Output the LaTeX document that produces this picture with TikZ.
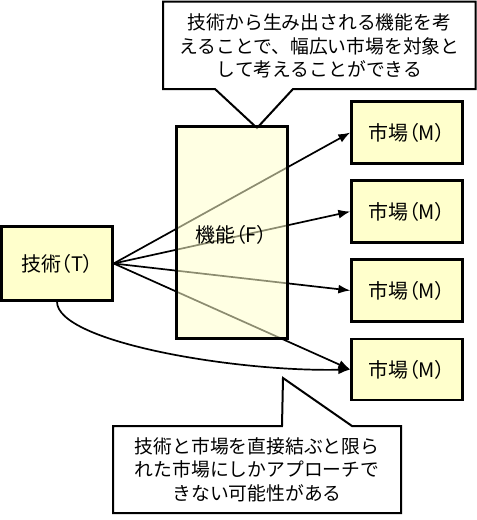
\documentclass[tikz,border=0pt]{standalone}
\usepackage{fontspec}
\setmainfont{Noto Sans CJK JP}
\newfontfamily\boxfont{Noto Sans CJK JP}[RawFeature=+palt]
\usetikzlibrary{arrows.meta}
\definecolor{boxyellow}{HTML}{FFFFCC}
\tikzset{
  box/.style={draw=black, line width=2.3pt, fill=boxyellow, inner sep=0pt, font=\boxfont\fontsize{20}{23}\selectfont},
  callout/.style={draw=black, line width=2pt, fill=white},
  callouttext/.style={align=center, inner sep=0pt, font=\fontsize{18.8}{23.5}\selectfont},
  link/.style={line width=1.7pt, -{Latex[length=12pt,width=9pt]}},
}
\begin{document}
\begin{tikzpicture}[x=1pt,y=-1pt]
\useasboundingbox (0,0) rectangle (477,520);
% top callout
\coordinate (c1a) at (163,1.5);
\coordinate (c1b) at (475.5,89);
\coordinate (c1tip) at (257,128);
\draw[callout] (c1a) -- (c1a -| c1b) -- (c1b) -- (293,89) -- (c1tip) -- (215,89) -- (c1a |- c1b) -- cycle;
\node[callouttext] (t1) at (319.5,46) {技術から生み出される機能を考\\えることで、幅広い市場を対象と\\して考えることができる};
% bottom callout
\coordinate (c2a) at (113,426);
\coordinate (c2b) at (401,513);
\coordinate (c2tip) at (283,378);
\draw[callout] (c2a) -- (282,426) -- (c2tip) -- (352,426) -- (c2a -| c2b) -- (c2b) -- (c2a |- c2b) -- cycle;
\node[callouttext] (t2) at (257,469.5) {技術と市場を直接結ぶと限ら\\れた市場にしかアプローチで\\きない可能性がある};
% nodes
\node[box, minimum width=111pt, minimum height=74pt] (T) at (57,263.5) {技術（T）};
\node[box, minimum width=111pt, minimum height=62pt] (M1) at (407,132.5) {市場（M）};
\node[box, minimum width=111pt, minimum height=62pt] (M2) at (407,211.5) {市場（M）};
\node[box, minimum width=111pt, minimum height=62pt] (M3) at (407,290.5) {市場（M）};
\node[box, minimum width=111pt, minimum height=61pt] (M4) at (407,369.5) {市場（M）};
% connectors
\draw[link] (T.east) -- (M1.west);
\draw[link] (T.east) -- (M2.west);
\draw[link] (T.east) -- (M3.west);
\draw[link] (T.east) -- (M4.west);
\draw[link] (T.south) .. controls (57,342) and (235,372) .. (M4.west);
% function box, semi-transparent over the lines
\node[box, fill opacity=0.55, text opacity=1, draw opacity=1, minimum width=111pt, minimum height=212pt] (F) at (232,232.5) {};
\node[font=\boxfont\fontsize{20}{23}\selectfont, inner sep=0pt] (Ft) at (231.5,235) {機能（F）};
\end{tikzpicture}
\end{document}
